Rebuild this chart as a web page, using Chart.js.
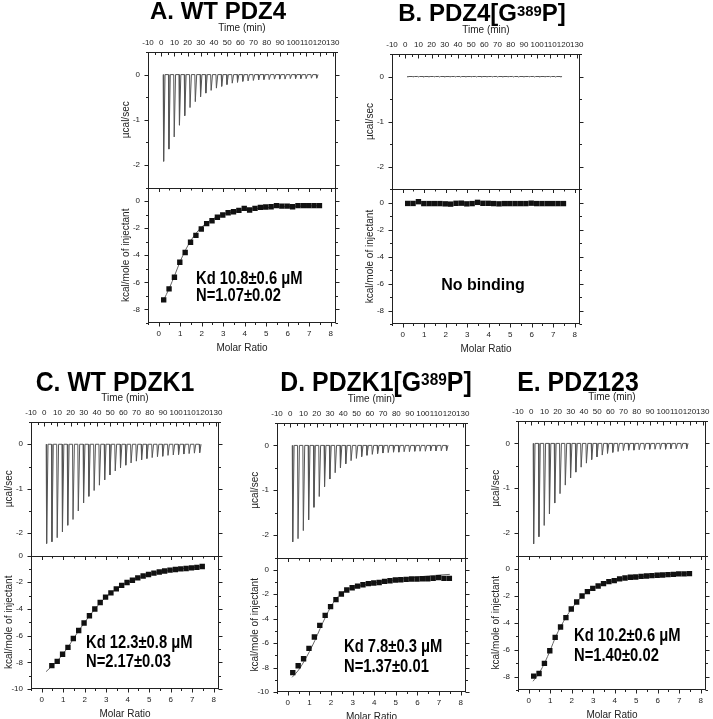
<!DOCTYPE html>
<html>
<head>
<meta charset="utf-8">
<script src="https://cdn.jsdelivr.net/npm/chart.js@4.4.1/dist/chart.umd.min.js"></script>
<style>
  html, body { margin: 0; padding: 0; background: #fff; overflow: hidden; width: 713px; height: 719px; }
  canvas { position: absolute; }
  .t { position: absolute; font-family: "Liberation Sans", Arial, sans-serif; font-weight: bold;
       line-height: 1; white-space: nowrap; color: #000; }
  .c { transform: translateX(-50%); }
  .n { transform: translateX(-50%) scaleX(0.92); }
  .k { transform-origin: 0 0; transform: scaleX(0.82); font-size: 18px; }
  sup { font-size: 0.62em; vertical-align: 0.36em; line-height: 0; }
</style>
</head>
<body>

<div class="t c" style="left:218px;top:-1px;font-size:24px">A. WT PDZ4</div>
<div class="t c" style="left:482px;top:1px;font-size:24px">B. PDZ4[G<sup>389</sup>P]</div>
<div class="t n" style="left:115px;top:369px;font-size:27px">C. WT PDZK1</div>
<div class="t n" style="left:376px;top:369px;font-size:27px">D. PDZK1[G<sup>389</sup>P]</div>
<div class="t n" style="left:578px;top:369px;font-size:27px">E. PDZ123</div>

<div class="t k" style="left:196px;top:269px">Kd 10.8±0.6 μM</div>
<div class="t k" style="left:196px;top:286px">N=1.07±0.02</div>
<div class="t c" style="left:483px;top:277px;font-size:16px">No binding</div>
<div class="t k" style="left:86px;top:633px">Kd 12.3±0.8 μM</div>
<div class="t k" style="left:86px;top:652px">N=2.17±0.03</div>
<div class="t k" style="left:344px;top:637px">Kd 7.8±0.3 μM</div>
<div class="t k" style="left:344px;top:657px">N=1.37±0.01</div>
<div class="t k" style="left:574px;top:626px">Kd 10.2±0.6 μM</div>
<div class="t k" style="left:574px;top:646px">N=1.40±0.02</div>

<script>
// axis ticks
const timeTicks = [-10, 0, 10, 20, 30, 40, 50, 60, 70, 80, 90, 100, 110, 120, 130];
const ratioTicks = [0, 1, 2, 3, 4, 5, 6, 7, 8];
const powerTicks = [0, -1, -2];
const heatTicks = [0, -2, -4, -6, -8];
const heatTicksLong = [0, -2, -4, -6, -8, -10];

// injection times (min) - same protocol for all runs
const injectTimes = [1.5, 5.5, 9.5, 13.5, 17.5, 21.5, 25.5, 29.5, 33.5, 37.5, 41.5, 45.5, 49.5, 53.5, 57.5,
  61.5, 65.5, 69.5, 73.5, 77.5, 81.5, 85.5, 89.5, 93.5, 97.5, 101.5, 105.5, 109.5, 113.5, 117.5];
const traceEnd = 119;

// raw heat peaks (µcal/sec) per injection
const peaksA = [-1.92, -1.65, -1.38, -1.12, -0.91, -0.73, -0.60, -0.49, -0.41, -0.35, -0.30, -0.26, -0.22, -0.19, -0.17,
  -0.15, -0.14, -0.13, -0.12, -0.11, -0.11, -0.10, -0.10, -0.10, -0.09, -0.09, -0.09, -0.09, -0.08, -0.08];
const peaksB = [-0.01, -0.01, -0.01, -0.01, -0.01, -0.01, -0.01, -0.01, -0.01, -0.01, -0.01, -0.01, -0.01, -0.01, -0.01,
  -0.01, -0.01, -0.01, -0.01, -0.01, -0.01, -0.01, -0.01, -0.01, -0.01, -0.01, -0.01, -0.01, -0.01, -0.01];
const peaksC = [-2.23, -2.19, -2.10, -1.97, -1.82, -1.69, -1.50, -1.32, -1.17, -1.04, -0.92, -0.80, -0.69, -0.60, -0.53,
  -0.47, -0.42, -0.38, -0.35, -0.32, -0.30, -0.28, -0.27, -0.25, -0.24, -0.23, -0.22, -0.21, -0.20, -0.19];
const peaksD = [-2.15, -2.08, -1.90, -1.66, -1.38, -1.14, -0.92, -0.75, -0.61, -0.50, -0.41, -0.34, -0.29, -0.25, -0.22,
  -0.20, -0.18, -0.17, -0.16, -0.15, -0.15, -0.14, -0.14, -0.13, -0.13, -0.13, -0.12, -0.12, -0.12, -0.12];
const peaksE = [-2.24, -2.08, -1.83, -1.57, -1.33, -1.12, -0.93, -0.77, -0.64, -0.53, -0.44, -0.36, -0.30, -0.26, -0.22,
  -0.20, -0.18, -0.16, -0.15, -0.15, -0.14, -0.14, -0.13, -0.13, -0.13, -0.13, -0.12, -0.12, -0.12, -0.12];

// integrated heats (kcal/mole of injectant) vs molar ratio
const molarRatio = [0.23, 0.48, 0.73, 0.98, 1.23, 1.48, 1.73, 1.98, 2.23, 2.48, 2.73, 2.98, 3.23, 3.48, 3.73,
  3.98, 4.23, 4.48, 4.73, 4.98, 5.23, 5.48, 5.73, 5.98, 6.23, 6.48, 6.73, 6.98, 7.23, 7.48];
const molarRatioC = [0.47, 0.72, 0.97, 1.22, 1.47, 1.72, 1.97, 2.22, 2.47, 2.72, 2.97, 3.22, 3.47, 3.72, 3.97,
  4.22, 4.47, 4.72, 4.97, 5.22, 5.47, 5.72, 5.97, 6.22, 6.47, 6.72, 6.97, 7.22, 7.47];
const heatA = [-7.29, -6.48, -5.62, -4.52, -3.80, -3.04, -2.53, -2.06, -1.67, -1.45, -1.20, -1.03, -0.86, -0.79, -0.69,
  -0.54, -0.66, -0.54, -0.47, -0.44, -0.42, -0.34, -0.37, -0.37, -0.42, -0.34, -0.34, -0.34, -0.34, -0.34];
const heatB = [-0.07, -0.07, 0.06, -0.08, -0.08, -0.08, -0.08, -0.10, -0.12, -0.06, -0.05, -0.10, -0.08, 0.01, -0.06,
  -0.06, -0.08, -0.10, -0.08, -0.08, -0.08, -0.08, -0.08, -0.05, -0.08, -0.08, -0.08, -0.08, -0.08, -0.08];
const heatC = [-8.25, -7.93, -7.40, -6.88, -6.22, -5.62, -5.06, -4.51, -4.01, -3.52, -3.12, -2.80, -2.50, -2.24, -2.02,
  -1.85, -1.68, -1.54, -1.42, -1.32, -1.24, -1.16, -1.10, -1.05, -1.00, -0.97, -0.93, -0.89, -0.82];
const heatD = [-8.42, -7.85, -7.28, -6.43, -5.50, -4.55, -3.73, -3.02, -2.45, -1.99, -1.66, -1.47, -1.34, -1.23, -1.14,
  -1.09, -1.04, -0.95, -0.90, -0.84, -0.82, -0.79, -0.76, -0.76, -0.74, -0.74, -0.71, -0.65, -0.71, -0.71];
const heatE = [-7.97, -7.77, -7.02, -6.08, -5.09, -4.32, -3.62, -2.98, -2.46, -2.01, -1.69, -1.44, -1.27, -1.09, -0.94,
  -0.87, -0.74, -0.67, -0.62, -0.60, -0.55, -0.52, -0.50, -0.47, -0.45, -0.42, -0.40, -0.37, -0.37, -0.35];

// fitted curves
const fitRatio = [0.2, 0.5, 0.75, 1.0, 1.25, 1.5, 1.75, 2.0, 2.25, 2.5, 2.75, 3.0, 3.25, 3.5, 3.75, 4.0,
  4.5, 5.0, 5.5, 6.0, 6.5, 7.0, 7.5];
const fitA = [-7.4, -6.4, -5.45, -4.45, -3.6, -2.9, -2.35, -1.92, -1.58, -1.33, -1.13, -0.98, -0.87, -0.78, -0.71, -0.65,
  -0.56, -0.49, -0.44, -0.41, -0.38, -0.36, -0.34];
const fitC = [-8.7, -8.25, -7.85, -7.35, -6.8, -6.17, -5.57, -5.0, -4.46, -3.96, -3.5, -3.1, -2.76, -2.47, -2.22, -2.01,
  -1.68, -1.43, -1.24, -1.1, -0.99, -0.9, -0.83];
const fitD = [-8.8, -8.2, -7.5, -6.7, -5.8, -4.8, -3.85, -3.0, -2.35, -1.92, -1.65, -1.47, -1.35, -1.25, -1.16, -1.08,
  -0.94, -0.82, -0.71, -0.6, -0.51, -0.44, -0.38];
const fitE = [-8.35, -7.7, -6.95, -6.05, -5.05, -4.25, -3.55, -2.95, -2.43, -2.0, -1.68, -1.42, -1.23, -1.08, -0.95, -0.85,
  -0.7, -0.6, -0.52, -0.46, -0.41, -0.38, -0.35];

const FONT = '"Liberation Sans", Arial, sans-serif';
const INK = '#222';
const LEFT = 30, RIGHT = 8, TOP = 32, BOTTOM = 32;

const panels = [
  { box: [148, 52, 188, 271], yMin: -9, yMax: 1, yTicks: heatTicks, peaks: peaksA, ratio: molarRatio, heat: heatA, fit: fitA },
  { box: [392, 54, 188, 270], yMin: -9, yMax: 1, yTicks: heatTicks, peaks: peaksB, ratio: molarRatio, heat: heatB, fit: null },
  { box: [31, 422, 188, 267], yMin: -10, yMax: 0, yTicks: heatTicksLong, peaks: peaksC, ratio: molarRatioC, heat: heatC, fit: fitC },
  { box: [277, 423, 189, 269], yMin: -10, yMax: 1, yTicks: heatTicksLong, peaks: peaksD, ratio: molarRatio, heat: heatD, fit: fitD },
  { box: [518, 421, 188, 269], yMin: -9, yMax: 1, yTicks: heatTicks, peaks: peaksE, ratio: molarRatio, heat: heatE, fit: fitE },
];

function trace(peaks) {
  const pts = [];
  injectTimes.forEach((t, i) => {
    pts.push({ x: t, y: 0 }, { x: t + 0.35, y: peaks[i] }, { x: t + 1.4, y: 0 });
  });
  pts.push({ x: traceEnd, y: 0 });
  return pts;
}

function withMinors(vals) {
  const out = vals.map(v => [v, true]);
  const step = vals[1] - vals[0];
  for (let i = -1; i < vals.length; i++) out.push([vals[0] + (i + 0.5) * step, false]);
  return out;
}

const fixed = vals => s => { s.ticks = vals.map(v => ({ value: v })); };

function axis(extra) {
  return Object.assign({
    type: 'linear', bounds: 'data',
    grid: { display: false, drawTicks: false, tickLength: 0 }, border: { display: false },
  }, extra);
}

function tickOpts(padding) {
  return { font: { family: FONT, size: 8 }, color: INK, autoSkip: false, maxRotation: 0, minRotation: 0, padding };
}

function makePanel(p) {
  const [bx, by, bw, bh] = p.box;
  const cv = document.createElement('canvas');
  cv.width = bw + LEFT + RIGHT;
  cv.height = bh + TOP + BOTTOM;
  cv.style.left = (bx - LEFT) + 'px';
  cv.style.top = (by - TOP) + 'px';
  document.body.insertBefore(cv, document.body.firstChild);

  const frame = {
    id: 'frame',
    afterDraw(chart) {
      const { ctx, chartArea: a } = chart;
      const { xt, xr, yt, yb } = chart.scales;
      const L = Math.round(a.left) + 0.5, R = Math.round(a.right) - 0.5;
      const T = Math.round(a.top) + 0.5, B = Math.round(a.bottom) - 0.5, M = Math.round(yt.bottom) + 0.5;
      ctx.save();
      ctx.strokeStyle = INK;
      ctx.lineWidth = 1;
      const seg = (x1, y1, x2, y2) => { ctx.beginPath(); ctx.moveTo(x1, y1); ctx.lineTo(x2, y2); ctx.stroke(); };
      ctx.strokeRect(L, T, R - L, B - T);
      seg(L, M, R, M);
      const px = v => Math.round(v) + 0.5;
      withMinors(timeTicks).forEach(([v, major]) => {
        if (v < xt.min || v > xt.max) return;
        const x = px(xt.getPixelForValue(v));
        seg(x, T, x, T + (major ? 4 : 2.5));
      });
      withMinors(ratioTicks).forEach(([v, major]) => {
        if (v < xr.min || v > xr.max) return;
        const x = px(xr.getPixelForValue(v));
        seg(x, B, x, B + (major ? 4 : 2.5));
        seg(x, M, x, M + (major ? 3.5 : 2));
      });
      [[yt, powerTicks], [yb, p.yTicks]].forEach(([s, vals]) => {
        withMinors(vals).forEach(([v, major]) => {
          if (v < s.min || v > s.max) return;
          const y = px(s.getPixelForValue(v));
          const l = major ? 4 : 2.5;
          seg(L - l, y, L, y);
          seg(R, y, R + l, y);
        });
      });
      ctx.restore();
    }
  };

  const datasets = [
    {
      data: p.ratio.map((r, i) => ({ x: r, y: p.heat[i] })),
      xAxisID: 'xr', yAxisID: 'yb',
      pointStyle: 'rect', pointRadius: 3.8, backgroundColor: '#111', borderWidth: 0, showLine: false,
    },
    {
      data: trace(p.peaks),
      xAxisID: 'xt', yAxisID: 'yt',
      showLine: true, pointRadius: 0, borderColor: '#555', borderWidth: 1, tension: 0,
    },
  ];
  if (p.fit) {
    datasets.push({
      data: fitRatio.map((r, i) => ({ x: r, y: p.fit[i] })),
      xAxisID: 'xr', yAxisID: 'yb',
      showLine: true, pointRadius: 0, borderColor: '#666', borderWidth: 1, cubicInterpolationMode: 'monotone',
    });
  }

  const titleFont = { family: FONT, size: 10 };
  new Chart(cv, {
    type: 'scatter',
    data: { datasets },
    options: {
      responsive: false, animation: false, devicePixelRatio: 1,
      layout: { padding: { left: 0, right: RIGHT, top: 0, bottom: 0 } },
      plugins: { legend: { display: false }, tooltip: { enabled: false } },
      scales: {
        xt: axis({
          position: 'top', min: -10, max: 132.5,
          afterBuildTicks: fixed(timeTicks), afterFit: s => { s.height = TOP; },
          ticks: tickOpts(4),
          title: { display: true, text: 'Time (min)', font: titleFont, color: INK, padding: { top: 2, bottom: 0 } },
        }),
        xr: axis({
          position: 'bottom', min: -0.5, max: 8.25,
          afterBuildTicks: fixed(ratioTicks), afterFit: s => { s.height = BOTTOM; },
          ticks: tickOpts(6),
          title: { display: true, text: 'Molar Ratio', font: titleFont, color: INK, padding: { top: 0, bottom: 1 } },
        }),
        yb: axis({
          position: 'left', stack: 'itc', stackWeight: 1, min: p.yMin, max: p.yMax,
          afterBuildTicks: fixed(p.yTicks), afterFit: s => { s.width = LEFT; },
          ticks: tickOpts(8),
          title: { display: true, text: 'kcal/mole of injectant', font: titleFont, color: INK, padding: { top: 2, bottom: 0 } },
        }),
        yt: axis({
          position: 'left', stack: 'itc', stackWeight: 1, min: -2.5, max: 0.5,
          afterBuildTicks: fixed(powerTicks), afterFit: s => { s.width = LEFT; },
          ticks: tickOpts(8),
          title: { display: true, text: 'µcal/sec', font: titleFont, color: INK, padding: { top: 2, bottom: 0 } },
        }),
      },
    },
    plugins: [frame],
  });
}

panels.forEach(makePanel);
</script>
</body>
</html>
